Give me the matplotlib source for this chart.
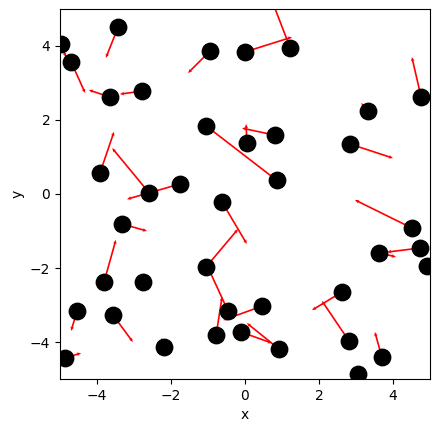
import numpy as np
import matplotlib
matplotlib.use("Agg")
import matplotlib.pyplot as plt

# particle positions
pos_x = [-4.97, -4.70, -3.43, -3.65, -2.78, -3.92, -2.59, -1.76, -0.95, 0.00,
         1.22, 4.76, 3.32, 2.84, 0.81, 0.05, -1.05, 0.86, -0.62, -1.05,
         -0.46, 0.46, -0.78, -0.11, 0.92, 2.62, 2.81, 3.70, 3.05, 4.51,
         4.73, 3.62, 4.92, -4.54, -4.86, -3.81, -3.32, -2.76, -3.57, -2.19]
pos_y = [4.05, 3.57, 4.51, 2.62, 2.78, 0.57, 0.03, 0.27, 3.86, 3.84,
         3.95, 2.62, 2.24, 1.35, 1.59, 1.38, 1.84, 0.38, -0.22, -1.97,
         -3.16, -3.03, -3.81, -3.73, -4.19, -2.65, -3.97, -4.41, -4.86, -0.92,
         -1.46, -1.59, -1.95, -3.16, -4.43, -2.38, -0.81, -2.38, -3.27, -4.14]

# velocity vectors
vel_u = [0.13, 0.38, -0.33, -0.57, -0.60, 0.38, -1.00, -1.43, -0.59, 1.27,
         -0.50, -0.25, -0.18, 1.16, -0.89, -0.02, 1.83, 0.10, 0.67, 0.86,
         -0.51, -1.05, 0.16, 0.84, -0.87, -0.81, -0.73, -0.19, 0.05, -1.54,
         -0.89, 0.46, 0.05, -0.16, 0.43, 0.32, 0.67, 0.05, 0.54, -0.08]
vel_v = [-0.35, -0.84, -0.83, 0.19, -0.08, 1.11, 1.21, -0.41, -0.59, 0.40,
         1.30, 1.08, 0.22, -0.38, 0.19, 0.51, -1.41, -0.10, -1.13, 1.02,
         1.11, -0.38, 1.03, -0.30, 0.70, -0.49, 1.08, 0.68, 0.05, 0.76,
         -0.11, -0.11, 0.05, -0.54, 0.13, 1.14, -0.19, 0.05, -0.73, 0.25]

fig = plt.figure(figsize=(4.39, 4.32), dpi=100)
ax = fig.add_axes([60 / 439, 53 / 432, 370 / 439, 370 / 432])

ax.quiver(pos_x, pos_y, vel_u, vel_v, color="r",
          angles="xy", scale_units="xy", scale=1,
          width=0.0045, headwidth=2.2, headlength=2.5, headaxislength=2.2,
          zorder=2)
ax.scatter(pos_x, pos_y, s=140, color="k", zorder=3)

ax.set_xlim(-5, 5)
ax.set_ylim(-5, 5)
ax.set_xlabel("x")
ax.set_ylabel("y")

fig.savefig("out.png", dpi=100)
